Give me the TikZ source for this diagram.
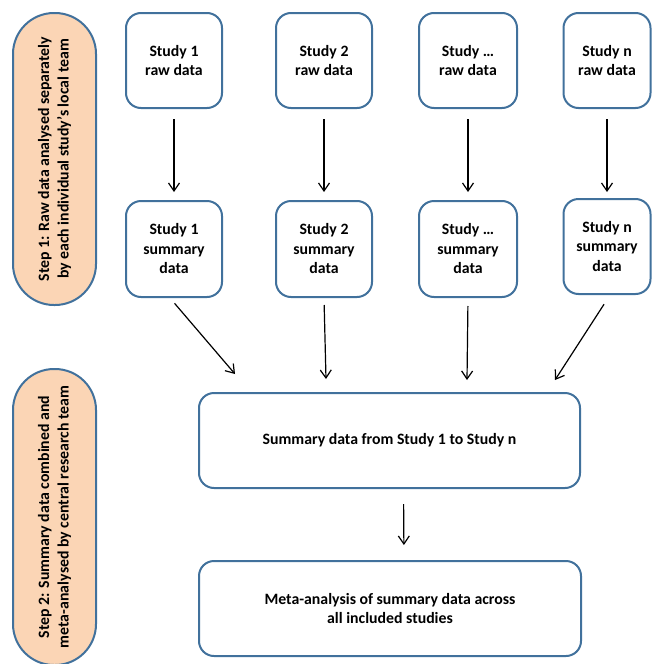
\documentclass[tikz,border=0pt]{standalone}
\usepackage{fontspec}
\setmainfont{Carlito}
\usetikzlibrary{arrows.meta}
\definecolor{boxblue}{HTML}{41719C}
\definecolor{peach}{HTML}{FBD5B5}
\begin{document}
\begin{tikzpicture}[x=1pt,y=-1pt,
  every node/.style={font=\fontsize{15.8}{19.5}\selectfont\bfseries, align=center, inner sep=0pt},
  stbox/.style={draw=boxblue, line width=2pt, rounded corners=15pt, fill=white},
  pill/.style={draw=boxblue, line width=2pt, fill=peach, rounded corners=41pt, minimum width=83pt},
  arr/.style={line width=1.2pt, -{Straight Barb[length=8pt,width=11pt,line width=1.2pt]}}
]
\useasboundingbox (0,0) rectangle (652,664);
% left step labels
\node[pill, minimum height=292pt] (p1) at (54.5,159) {};
\node[rotate=90] at (p1.center) {Step 1: Raw data analysed separately\\by each individual study’s local team};
\node[pill, minimum height=296pt] (p2) at (54.5,517) {};
\node[rotate=90] at (p2.center) {Step 2: Summary data combined and\\meta-analysed by central research team};
% raw data
\node[stbox, minimum width=96pt, minimum height=95pt] (r1) at (174,60.5) {Study 1\\raw data};
\node[stbox, minimum width=96pt, minimum height=95pt] (r2) at (324,60.5) {Study 2\\raw data};
\node[stbox, minimum width=98pt, minimum height=95pt] (r3) at (468,60.5) {Study …\\raw data};
\node[stbox, minimum width=87pt, minimum height=95pt] (r4) at (607,60.5) {Study n\\raw data};
% summary data
\node[stbox, minimum width=96pt, minimum height=96pt] (s1) at (174,249) {Study 1\\summary\\data};
\node[stbox, minimum width=96pt, minimum height=96pt] (s2) at (324,249) {Study 2\\summary\\data};
\node[stbox, minimum width=98pt, minimum height=96pt] (s3) at (468,249) {Study …\\summary\\data};
\node[stbox, minimum width=87pt, minimum height=95pt] (s4) at (607,246.5) {Study n\\summary\\data};
% combined
\node[stbox, minimum width=381pt, minimum height=95pt] (b1) at (389.5,440.5) {Summary data from Study 1 to Study n};
\node[stbox, minimum width=382pt, minimum height=95pt] (b2) at (390,608.5) {Meta-analysis of summary data across\\all included studies};
% arrow ends
\coordinate (t1) at (235,374);
\coordinate (t2) at (326,379);
\coordinate (t3) at (467,380);
\coordinate (t4) at (555,380);
% arrows
\draw[arr, shorten <=10pt, shorten >=8pt] (r1) -- (s1);
\draw[arr, shorten <=10pt, shorten >=8pt] (r2) -- (s2);
\draw[arr, shorten <=10pt, shorten >=8pt] (r3) -- (s3);
\draw[arr, shorten <=10pt, shorten >=6pt] (r4) -- (s4);
\draw[arr, shorten <=7pt] ([xshift=-4pt]s1.south) -- (t1);
\draw[arr, shorten <=7pt] (s2.south) -- (t2);
\draw[arr, shorten <=8pt] (s3.south) -- (t3);
\draw[arr, shorten <=11pt] ([xshift=3pt]s4.south) -- (t4);
\draw[arr, shorten <=15pt, shorten >=15pt] ([xshift=14pt]b1.south) -- ([xshift=14pt]b2.north);
\end{tikzpicture}
\end{document}
